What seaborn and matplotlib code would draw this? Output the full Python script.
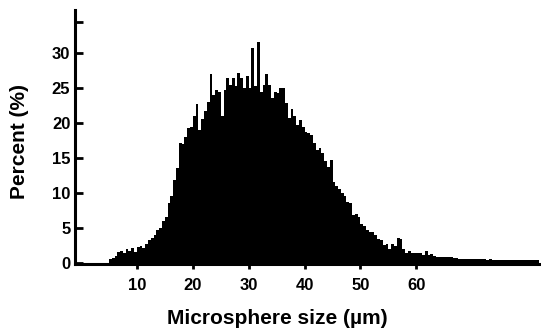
import numpy as np
import pandas as pd
import matplotlib
matplotlib.use("Agg")
import matplotlib.pyplot as plt
import seaborn as sns

# Histogram of microsphere sizes: bins of 0.5 um starting at 5.0 um
bin_start = 5.0
bin_width = 0.5
percent = [
    0.5, 0.7, 0.9, 1.5, 1.7, 1.3, 2.0, 1.6, 2.1, 1.5,      # 5.0 - 9.5
    2.2, 2.3, 2.1, 2.6, 3.2, 3.5, 4.0, 4.6, 5.0, 6.0,      # 10.0 - 14.5
    6.5, 8.5, 9.5, 11.8, 13.5, 17.2, 17.0, 18.0, 19.3, 19.5,  # 15.0 - 19.5
    21.0, 22.8, 19.0, 20.6, 21.8, 23.0, 27.0, 24.0, 24.8, 24.5,  # 20.0 - 24.5
    21.0, 24.8, 26.5, 25.5, 26.5, 25.3, 27.2, 26.5, 25.0, 26.7,  # 25.0 - 29.5
    25.0, 30.8, 25.3, 31.6, 24.5, 25.5, 27.0, 25.5, 23.6, 24.5,  # 30.0 - 34.5
    24.3, 25.0, 25.0, 22.9, 20.7, 22.1, 21.0, 19.7, 20.5, 19.5,  # 35.0 - 39.5
    18.8, 18.6, 18.3, 17.1, 16.1, 16.4, 15.7, 14.5, 13.7, 14.7,  # 40.0 - 44.5
    11.6, 11.0, 10.5, 10.0, 9.5, 8.7, 8.5, 6.8, 7.0, 6.5,        # 45.0 - 49.5
    5.6, 5.2, 4.6, 4.4, 4.4, 3.9, 3.4, 3.2, 2.5, 2.7,            # 50.0 - 54.5
    2.0, 2.6, 2.4, 3.5, 3.4, 1.9, 1.4, 1.6, 1.4, 1.4,            # 55.0 - 59.5
    1.3, 1.4, 1.15, 1.6, 1.1, 1.2, 1.0, 0.8, 0.85, 0.8,          # 60.0 - 64.5
    0.8, 0.75, 0.8, 0.7, 0.6, 0.5, 0.55, 0.5, 0.5, 0.45,         # 65.0 - 69.5
    0.5, 0.5, 0.45, 0.5, 0.45, 0.4, 0.45, 0.4, 0.35, 0.35,       # 70.0 - 74.5
    0.4, 0.35, 0.35, 0.3, 0.35, 0.35, 0.3, 0.35, 0.35, 0.3,      # 75.0 - 79.5
    0.35, 0.3, 0.35, 0.3,                                        # 80.0 - 81.5
]
x_ticks = [10, 20, 30, 40, 50, 60]
y_ticks = [0, 5, 10, 15, 20, 25, 30, 34.5]
y_tick_labels = ["0", "5", "10", "15", "20", "25", "30", ""]

n = len(percent)
centers = bin_start + bin_width * np.arange(n) + bin_width / 2
df = pd.DataFrame({"size": centers, "percent": percent})

sns.set_style("ticks")
plt.rcParams["font.family"] = ["Liberation Sans", "DejaVu Sans"]
plt.rcParams["font.weight"] = "bold"
plt.rcParams["text.color"] = "black"
plt.rcParams["axes.labelcolor"] = "black"
plt.rcParams["xtick.color"] = "black"
plt.rcParams["ytick.color"] = "black"
plt.rcParams["axes.edgecolor"] = "black"

W, H = 541, 328
fig = plt.figure(figsize=(W / 100, H / 100), dpi=100)
ax_l, ax_b, ax_r, ax_t = 74.5, 263.5, 541, 10
ax = fig.add_axes([ax_l / W, (H - ax_b) / H, (ax_r - ax_l) / W, (ax_b - ax_t) / H])

sns.histplot(data=df, x="size", weights="percent",
             binwidth=bin_width, binrange=(bin_start, bin_start + n * bin_width),
             color="black", alpha=1, linewidth=0, ax=ax)

ax.set_xlim(-1.16, 82.3)
ax.set_ylim(-0.14, 36.24)
ax.set_xticks(x_ticks)
ax.set_xticklabels([str(t) for t in x_ticks])
ax.set_yticks(y_ticks)
ax.set_yticklabels(y_tick_labels)

for s in ["top", "right"]:
    ax.spines[s].set_visible(False)
for s in ["left", "bottom"]:
    ax.spines[s].set_linewidth(2.2)
    ax.spines[s].set_color("black")

ax.tick_params(axis="x", direction="out", length=3.6, width=2.0, pad=7,
               labelsize=12, colors="black", labelcolor="black")
ax.tick_params(axis="y", direction="in", length=5.5, width=2.0, pad=3,
               labelsize=12, colors="black", labelcolor="black")
for lab in ax.get_xticklabels() + ax.get_yticklabels():
    lab.set_fontweight("bold")
    lab.set_color("black")

ax.set_xlabel("Microsphere size (µm)", fontsize=15, fontweight="bold", color="black")
ax.set_ylabel("Percent (%)", fontsize=15, fontweight="bold", color="black")
ax.xaxis.set_label_coords(0.434, -0.18)
ax.yaxis.set_label_coords(-0.0975, 0.481)

fig.savefig("out.png", dpi=100)
